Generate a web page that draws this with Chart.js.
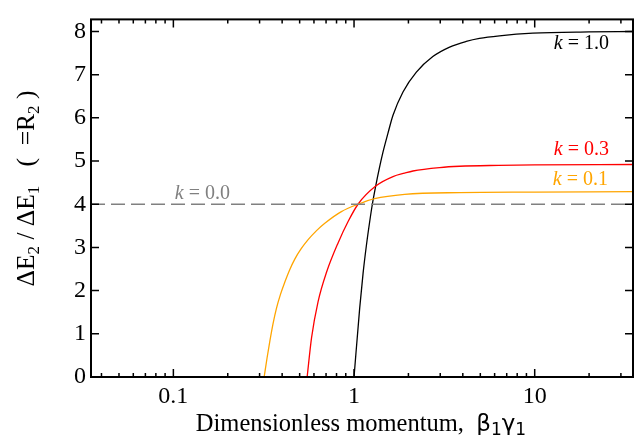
<!DOCTYPE html>
<html>
<head>
<meta charset="utf-8">
<script src="https://cdn.jsdelivr.net/npm/chart.js@4.4.0/dist/chart.umd.min.js"></script>
<style>
  html, body { margin: 0; padding: 0; background: #fff; }
  canvas { display: block; }
</style>
</head>
<body>
<canvas id="chart" width="634" height="435"></canvas>
<script>
// values
const xK10 = [1.0, 1.075, 1.122, 1.171, 1.221, 1.263, 1.318, 1.38, 1.445, 1.54, 1.643, 1.866, 2.213, 2.729, 3.381, 4.178, 4.943, 6.38, 9.77, 19.95, 35];
const yK10 = [0, 1.6, 2.4, 3.05, 3.6, 4.0, 4.42, 4.83, 5.2, 5.64, 6.06, 6.6, 7.06, 7.42, 7.64, 7.77, 7.84, 7.9, 7.96, 7.99, 8.0];

const xK03 = [0.55, 0.582, 0.632, 0.705, 0.817, 0.927, 1.052, 1.318, 1.643, 1.905, 2.118, 2.976, 3.837, 6.31, 10, 35];
const yK03 = [0, 0.91, 1.74, 2.43, 3.11, 3.6, 4.0, 4.42, 4.64, 4.72, 4.77, 4.85, 4.88, 4.9, 4.91, 4.92];

const xK01 = [0.318, 0.33, 0.342, 0.356, 0.372, 0.392, 0.414, 0.44, 0.47, 0.51, 0.557, 0.62, 0.689, 0.851, 1.052, 1.3, 1.905, 3.837, 10, 35];
const yK01 = [0, 0.44, 0.83, 1.23, 1.59, 1.92, 2.2, 2.48, 2.73, 2.97, 3.18, 3.39, 3.56, 3.83, 4.0, 4.13, 4.23, 4.27, 4.28, 4.29];

const xK00 = [0.035, 35];
const yK00 = [4, 4];

const xMajorTicks = [0.1, 1, 10];
const xMinorTicks = [0.04, 0.05, 0.06, 0.07, 0.08, 0.09, 0.2, 0.3, 0.4, 0.5, 0.6, 0.7, 0.8, 0.9,
                     2, 3, 4, 5, 6, 7, 8, 9, 20, 30];
const yTicks = [0, 1, 2, 3, 4, 5, 6, 7, 8];

const curveLabels = [
  { value: '1.0', color: '#000000', x: 609, y: 49 },
  { value: '0.3', color: '#ff0000', x: 609, y: 155 },
  { value: '0.1', color: '#ffa500', x: 608, y: 185 },
  { value: '0.0', color: '#808080', x: 230, y: 199 }
];

const toPoints = (xs, ys) => xs.map((v, i) => ({ x: v, y: ys[i] }));

const SERIF = '"Liberation Serif", "Times New Roman", serif';
const SANS = '"DejaVu Sans", sans-serif';

function drawPieces(ctx, pieces, x0, y0) {
  let x = x0;
  pieces.forEach(p => {
    ctx.font = p.font;
    ctx.fillText(p.text, x, y0 + (p.dy || 0));
    x += ctx.measureText(p.text).width;
  });
}
function piecesWidth(ctx, pieces) {
  let w = 0;
  pieces.forEach(p => { ctx.font = p.font; w += ctx.measureText(p.text).width; });
  return w;
}

const decorations = {
  id: 'decorations',
  afterDatasetsDraw(chart) {
    const { ctx, chartArea: a, scales: { x, y } } = chart;
    ctx.save();
    ctx.strokeStyle = '#000';
    ctx.lineWidth = 1.5;
    ctx.beginPath();
    const xt = (v, len) => {
      const px = x.getPixelForValue(v);
      ctx.moveTo(px, a.bottom); ctx.lineTo(px, a.bottom - len);
      ctx.moveTo(px, a.top); ctx.lineTo(px, a.top + len);
    };
    xMajorTicks.forEach(v => xt(v, 8));
    xMinorTicks.forEach(v => xt(v, 4));
    yTicks.forEach(v => {
      const py = y.getPixelForValue(v);
      ctx.moveTo(a.left, py); ctx.lineTo(a.left + 8, py);
      ctx.moveTo(a.right, py); ctx.lineTo(a.right - 8, py);
    });
    ctx.stroke();
    ctx.lineWidth = 2;
    ctx.strokeRect(a.left, a.top, a.right - a.left, a.bottom - a.top);

    // curve labels
    ctx.textBaseline = 'alphabetic';
    ctx.textAlign = 'left';
    curveLabels.forEach(l => {
      ctx.fillStyle = l.color;
      const pieces = [
        { text: 'k', font: 'italic 20px ' + SERIF },
        { text: ' = ' + l.value, font: '20px ' + SERIF }
      ];
      drawPieces(ctx, pieces, l.x - piecesWidth(ctx, pieces), l.y);
    });

    // x axis title
    ctx.fillStyle = '#000';
    const xt1 = [
      { text: 'Dimensionless momentum,  ', font: '24.5px ' + SERIF },
      { text: 'β', font: '23px ' + SANS },
      { text: '1', font: '17px ' + SANS, dy: 4 },
      { text: 'γ', font: '23px ' + SANS },
      { text: '1', font: '17px ' + SANS, dy: 4 }
    ];
    drawPieces(ctx, xt1, 361 - piecesWidth(ctx, xt1) / 2, 431);

    // y axis title
    const yt = [
      { text: 'ΔE', font: '25.5px ' + SERIF },
      { text: '2', font: '17px ' + SERIF, dy: 5 },
      { text: ' / ΔE', font: '25.5px ' + SERIF },
      { text: '1', font: '17px ' + SERIF, dy: 5 },
      { text: '   (  =R', font: '25.5px ' + SERIF },
      { text: '2', font: '17px ' + SERIF, dy: 5 },
      { text: ' )', font: '25.5px ' + SERIF }
    ];
    ctx.translate(34, 188.5);
    ctx.rotate(-Math.PI / 2);
    drawPieces(ctx, yt, -piecesWidth(ctx, yt) / 2, 0);
    ctx.restore();
  }
};

new Chart(document.getElementById('chart'), {
  type: 'line',
  data: {
    datasets: [
      {
        label: 'k = 0.0',
        data: toPoints(xK00, yK00),
        borderColor: '#808080',
        borderWidth: 1.5,
        borderDash: [14, 6],
        pointRadius: 0
      },
      {
        label: 'k = 0.1',
        data: toPoints(xK01, yK01),
        borderColor: '#ffa500',
        borderWidth: 1.3,
        pointRadius: 0,
        cubicInterpolationMode: 'monotone'
      },
      {
        label: 'k = 0.3',
        data: toPoints(xK03, yK03),
        borderColor: '#ff0000',
        borderWidth: 1.3,
        pointRadius: 0,
        cubicInterpolationMode: 'monotone'
      },
      {
        label: 'k = 1.0',
        data: toPoints(xK10, yK10),
        borderColor: '#000000',
        borderWidth: 1.3,
        pointRadius: 0,
        cubicInterpolationMode: 'monotone'
      }
    ]
  },
  options: {
    responsive: false,
    animation: false,
    layout: { padding: { top: 13, right: 1, left: 0, bottom: 0 } },
    plugins: {
      legend: { display: false },
      tooltip: { enabled: false }
    },
    scales: {
      x: {
        type: 'logarithmic',
        min: 0.035,
        max: 35,
        grid: { display: false, drawTicks: false },
        border: { display: false },
        afterBuildTicks: s => { s.ticks = xMajorTicks.map(v => ({ value: v })); },
        afterFit: s => { s.height = 58; },
        ticks: {
          autoSkip: false,
          maxRotation: 0,
          padding: 5,
          color: '#000',
          font: { family: SERIF, size: 24 },
          callback: v => String(v)
        }
      },
      y: {
        type: 'linear',
        min: 0,
        max: 8.28,
        grid: { display: false, drawTicks: false },
        border: { display: false },
        afterBuildTicks: s => { s.ticks = yTicks.map(v => ({ value: v })); },
        afterFit: s => { s.width = 91; },
        ticks: {
          padding: 5,
          color: '#000',
          font: { family: SERIF, size: 24 },
          callback: v => String(v)
        }
      }
    }
  },
  plugins: [decorations]
});
</script>
</body>
</html>
